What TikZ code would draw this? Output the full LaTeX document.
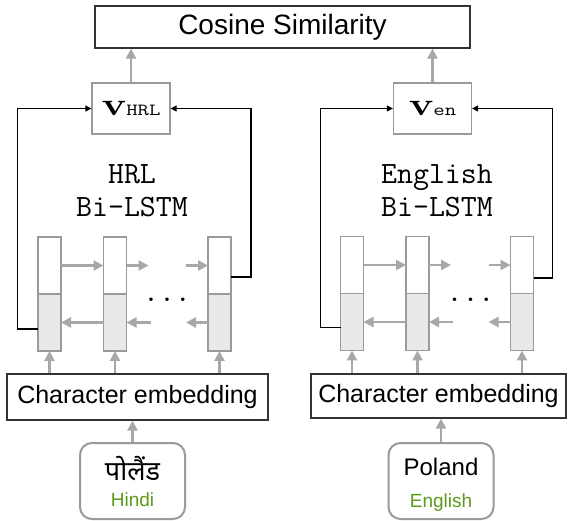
\documentclass[tikz,border=0pt]{standalone}
\usepackage{fontspec}
\newfontfamily\helv{Liberation Sans}
\newfontfamily\hindi[Script=Devanagari]{Noto Sans}
\usepackage{xcolor}
\usepackage{graphicx}
\usepackage{tikz}
\usetikzlibrary{arrows.meta}
\usetikzlibrary{positioning}

\definecolor{cellgray}{HTML}{E9E9E9}
\definecolor{linegray}{HTML}{9A9A9A}
\definecolor{arrowgray}{HTML}{A8A8A8}
\definecolor{langgreen}{HTML}{5C9A1C}

\newcommand{\vecname}[1]{\scalebox{1.3}[1]{{\fontsize{32}{32}\selectfont\bfseries v}{\ttfamily\fontsize{17}{17}\selectfont #1}}}

\begin{document}
\begin{tikzpicture}
[
	x = 1pt, y = -1pt,
	bigbox/.style	= {draw = black!80, line width = 1.2pt, inner sep = 0pt, font = \helv\fontsize{25}{25}\selectfont},
	vecbox/.style	= {draw = linegray, line width = 1.2pt, minimum width = 78pt, minimum height = 51pt, inner sep = 0pt},
	upper/.style	= {draw = linegray, line width = 1.2pt, fill = white, minimum width = 23pt, minimum height = 57pt, inner sep = 0pt, outer sep = 0pt},
	lower/.style	= {upper, fill = cellgray},
	word/.style	= {draw = linegray, line width = 2pt, rounded corners = 12pt, minimum width = 105pt, minimum height = 76pt, inner sep = 0pt},
	wordtext/.style	= {inner sep = 0pt, font = \helv\fontsize{24}{24}\selectfont},
	langtext/.style	= {inner sep = 0pt, text = langgreen, font = \helv\fontsize{19}{19}\selectfont},
	lstm/.style	= {align = center, font = \ttfamily\fontsize{31}{33}\selectfont},
	dots/.style	= {inner sep = 0pt, font = \ttfamily\fontsize{31}{31}\selectfont},
	flow/.style	= {-{Triangle[length = 10pt, width = 10pt]}, draw = arrowgray, line width = 2.5pt},
	back/.style	= {-{Triangle[length = 6pt, width = 6pt]}, draw = black, line width = 1.1pt},
	node distance = 0pt and 0pt,
]

	\useasboundingbox (0, 0) rectangle (568, 521);

	\node (cos) at (282.5, 27) [bigbox, minimum width = 375pt, minimum height = 42pt, font = \helv\fontsize{28}{28}\selectfont] {Cosine Similarity};
	%
	\node (vhrl) at (131, 108.5) [vecbox] {\vecname{HRL}};
	\node (ven) at (432.5, 108.5) [vecbox] {\vecname{en}};
	%
	\node (hrllstm) at (132, 191) [lstm] {HRL\\Bi-LSTM};
	\node (enlstm) at (437, 191) [lstm] {English\\Bi-LSTM};

	% HRL cells
	\node (h1up) at (49.5, 265.5) [upper] {};
	\node (h1lo) [lower, below = of h1up] {};
	\node (h2up) at (115, 265.5) [upper] {};
	\node (h2lo) [lower, below = of h2up] {};
	\node (h3up) at (219.5, 265.5) [upper] {};
	\node (h3lo) [lower, below = of h3up] {};
	\node (hdots) at (167, 300) [dots] {...};
	%
	\coordinate (h2out) at ([xshift = 22pt] h2up.east);
	\coordinate (h3in) at ([xshift = -22pt] h3up.west);
	\coordinate (h2back) at ([xshift = 24pt] h2lo.east);
	\coordinate (h3back) at ([xshift = -22pt] h3lo.west);

	% English cells
	\node (e1up) at (352, 265) [upper] {};
	\node (e1lo) [lower, below = of e1up] {};
	\node (e2up) at (417.5, 265) [upper] {};
	\node (e2lo) [lower, below = of e2up] {};
	\node (e3up) at (522, 265) [upper] {};
	\node (e3lo) [lower, below = of e3up] {};
	\node (edots) at (470.5, 300) [dots] {...};
	%
	\coordinate (e2out) at ([xshift = 22pt] e2up.east);
	\coordinate (e3in) at ([xshift = -22pt] e3up.west);
	\coordinate (e2back) at ([xshift = 24pt] e2lo.east);
	\coordinate (e3back) at ([xshift = -22pt] e3lo.west);

	\node (hemb) at (137.5, 397) [bigbox, minimum width = 261pt, minimum height = 46pt] {Character embedding};
	\node (eemb) at (438.5, 396) [bigbox, minimum width = 255pt, minimum height = 44pt] {Character embedding};
	%
	\node (hword) at (132.5, 481) [word] {};
	\node (hname) at (132.5, 469) [wordtext] {\hindi\fontsize{27}{27}\selectfont पोलैंड};
	\node (hlang) at (132.5, 500) [langtext] {Hindi};
	\node (eword) at (441, 481) [word] {};
	\node (ename) at (441, 466.5) [wordtext] {Poland};
	\node (elang) at (441, 502.5) [langtext] {English};

	\draw [flow] (vhrl.north) -- (vhrl.north |- cos.south);
	\draw [flow] (ven.north) -- (ven.north |- cos.south);

	\draw [flow] (h1up.east) -- (h2up.west);
	\draw [flow] (h2up.east) -- (h2out);
	\draw [flow] (h3in) -- (h3up.west);
	\draw [flow] (h2lo.west) -- (h1lo.east);
	\draw [flow] (h2back) -- (h2lo.east);
	\draw [flow] (h3lo.west) -- (h3back);
	%
	\draw [flow] (e1up.east) -- (e2up.west);
	\draw [flow] (e2up.east) -- (e2out);
	\draw [flow] (e3in) -- (e3up.west);
	\draw [flow] (e2lo.west) -- (e1lo.east);
	\draw [flow] (e2back) -- (e2lo.east);
	\draw [flow] (e3lo.west) -- (e3back);

	\draw [flow] (hemb.north -| h1lo) -- (h1lo.south);
	\draw [flow] (hemb.north -| h2lo) -- (h2lo.south);
	\draw [flow] (hemb.north -| h3lo) -- (h3lo.south);
	\draw [flow] (eemb.north -| e1lo) -- (e1lo.south);
	\draw [flow] (eemb.north -| e2lo) -- (e2lo.south);
	\draw [flow] (eemb.north -| e3lo) -- (e3lo.south);

	\draw [flow] (hword.north) -- (hword.north |- hemb.south);
	\draw [flow] (eword.north) -- (eword.north |- eemb.south);

	\draw [back] ([yshift = -6.5pt] h1lo.west) -- ++(-20.5, 0) |- (vhrl.west);
	\draw [back] ([yshift = -11.5pt] h3up.east) -- ++(20, 0) |- (vhrl.east);
	\draw [back] ([yshift = -5.5pt] e1lo.west) -- ++(-20, 0) |- (ven.west);
	\draw [back] ([yshift = -13pt] e3up.east) -- ++(19, 0) |- (ven.east);

\end{tikzpicture}
\end{document}
